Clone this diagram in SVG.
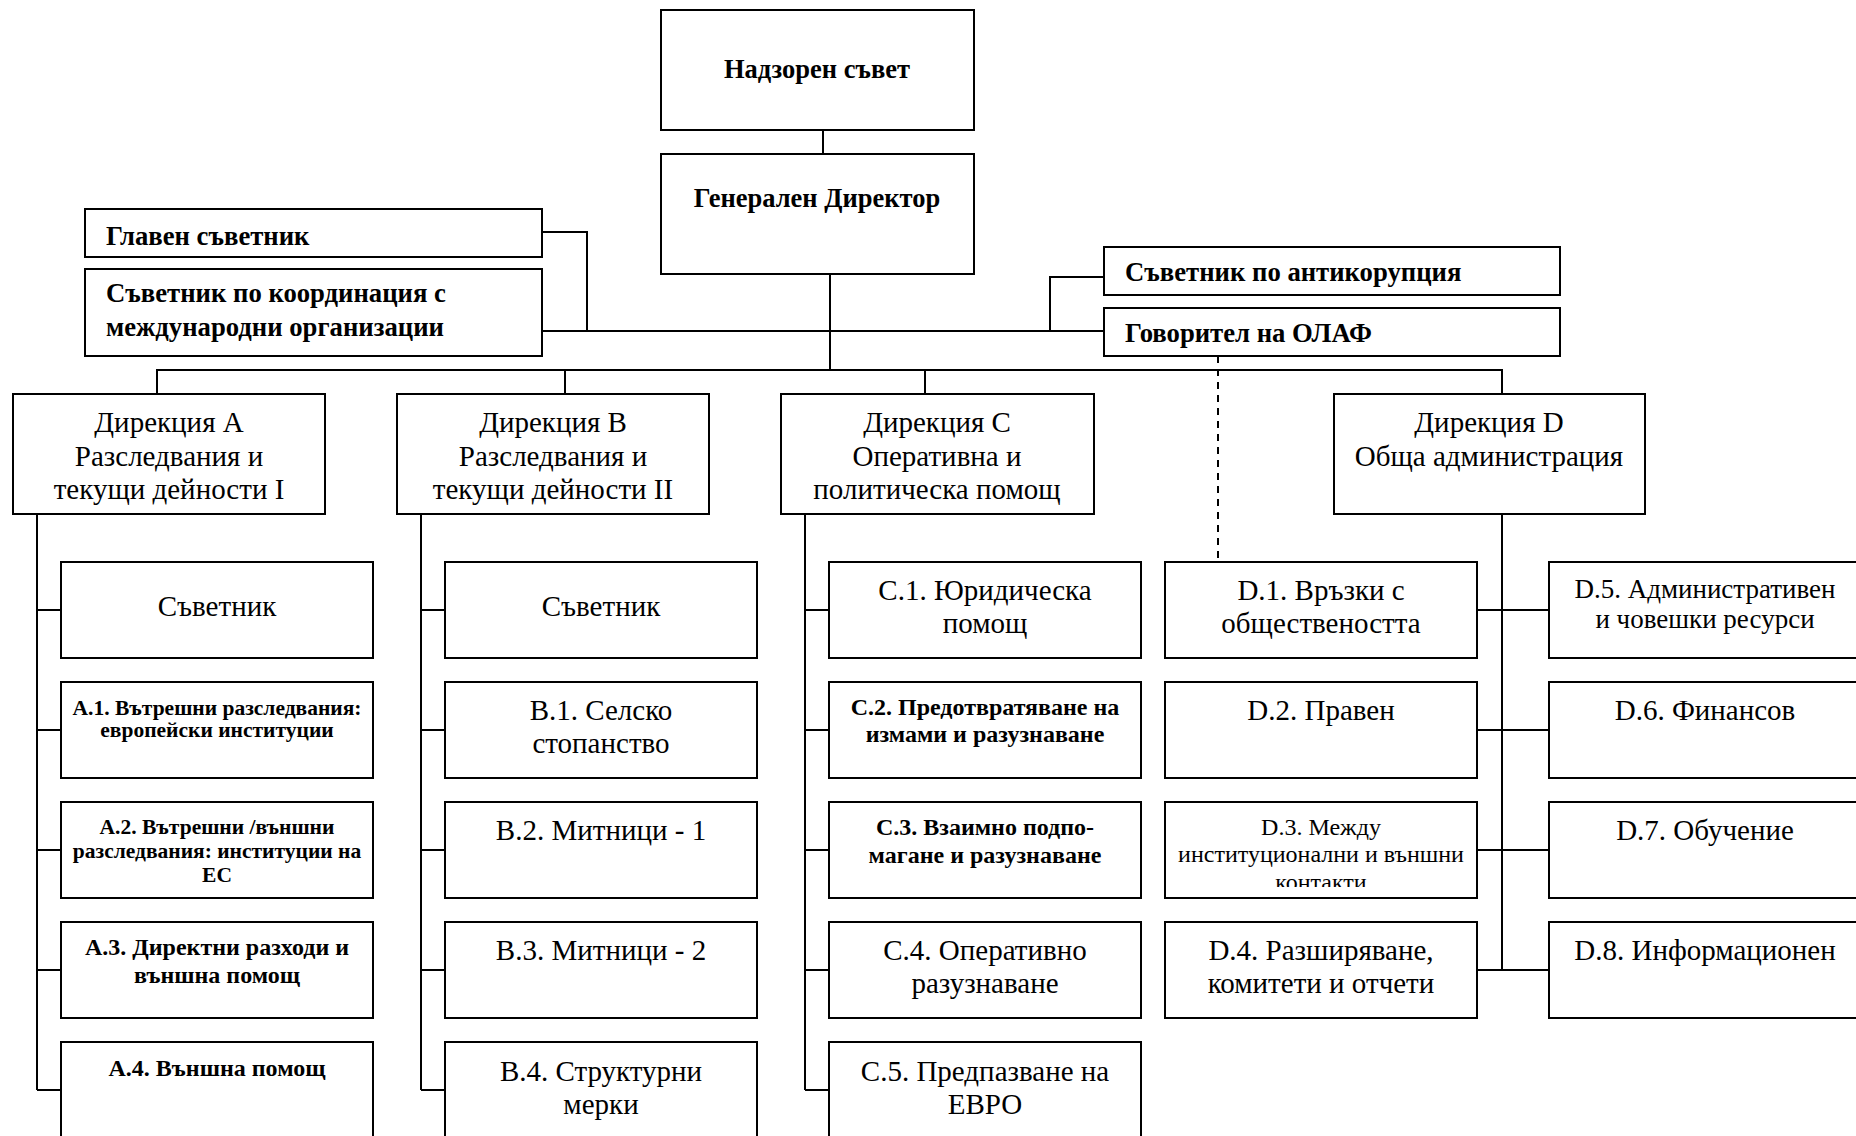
<svg xmlns="http://www.w3.org/2000/svg" width="1856" height="1136" viewBox="0 0 1856 1136">
<style>
  .box { fill: #fff; stroke: #000; stroke-width: 2; }
  .ln { fill: none; stroke: #000; stroke-width: 2; }
  .dash { fill: none; stroke: #000; stroke-width: 2; stroke-dasharray: 7 6; }
  text { font-family: "Liberation Serif", "Times New Roman", serif; fill: #000; }
  .n { font-size: 29px; text-anchor: middle; }
  .b { font-size: 21.5px; font-weight: bold; text-anchor: middle; }
  .b2 { font-size: 24px; font-weight: bold; text-anchor: middle; }
  .bt { font-size: 26.5px; font-weight: bold; text-anchor: middle; }
  .bl { font-size: 26.7px; font-weight: bold; }
  .s { font-size: 24px; text-anchor: middle; }
  .m { font-size: 27px; text-anchor: middle; }
</style>
<defs>
  <clipPath id="clipD3"><rect x="1165" y="802" width="312" height="85"/></clipPath>
</defs>
<rect width="1856" height="1136" fill="#fff"/>

<g id="connectors">
  <path class="ln" d="M823 130 V154"/>
  <path class="ln" d="M830 274 V370"/>
  <path class="ln" d="M542 232 H587 V331"/>
  <path class="ln" d="M542 331 H1104"/>
  <path class="ln" d="M1104 277 H1050 V331"/>
  <path class="ln" d="M157 394 V370 H1502 V394"/>
  <path class="ln" d="M565 370 V394"/>
  <path class="ln" d="M925 370 V394"/>
  <path class="dash" d="M1218 356 V566"/>
  <path class="ln" d="M37 514 V1090 M37 610 H61 M37 730 H61 M37 850 H61 M37 970 H61 M37 1090 H61"/>
  <path class="ln" d="M421 514 V1090 M421 610 H445 M421 730 H445 M421 850 H445 M421 970 H445 M421 1090 H445"/>
  <path class="ln" d="M805 514 V1090 M805 610 H829 M805 730 H829 M805 850 H829 M805 970 H829 M805 1090 H829"/>
  <path class="ln" d="M1502 514 V970 M1477 610 H1549 M1477 730 H1549 M1477 850 H1549 M1477 970 H1549"/>
</g>

<g id="supervisory"><rect class="box" x="661" y="10" width="313" height="120"/><text class="bt" x="817" y="78">Надзорен съвет</text></g>
<g id="director-general"><rect class="box" x="661" y="154" width="313" height="120"/><text class="bt" x="817" y="207">Генерален Директор</text></g>
<g id="chief-adviser"><rect class="box" x="85" y="209" width="457" height="48"/><text class="bl" x="106" y="245">Главен съветник</text></g>
<g id="coord-adviser"><rect class="box" x="85" y="269" width="457" height="87"/><text class="bl" x="106" y="302">Съветник по координация с</text><text class="bl" x="106" y="336">международни организации</text></g>
<g id="anticorruption"><rect class="box" x="1104" y="247" width="456" height="48"/><text class="bl" x="1125" y="281">Съветник по антикорупция</text></g>
<g id="spokesperson"><rect class="box" x="1104" y="308" width="456" height="48"/><text class="bl" x="1125" y="342">Говорител на ОЛАФ</text></g>

<g id="dir-a"><rect class="box" x="13" y="394" width="312" height="120"/><text class="n" x="169" y="432">Дирекция А</text><text class="n" x="169" y="466">Разследвания и</text><text class="n" x="169" y="499">текущи дейности I</text></g>
<g id="dir-b"><rect class="box" x="397" y="394" width="312" height="120"/><text class="n" x="553" y="432">Дирекция В</text><text class="n" x="553" y="466">Разследвания и</text><text class="n" x="553" y="499">текущи дейности II</text></g>
<g id="dir-c"><rect class="box" x="781" y="394" width="313" height="120"/><text class="n" x="937" y="432">Дирекция С</text><text class="n" x="937" y="466">Оперативна и</text><text class="n" x="937" y="499">политическа помощ</text></g>
<g id="dir-d"><rect class="box" x="1334" y="394" width="311" height="120"/><text class="n" x="1489" y="432">Дирекция D</text><text class="n" x="1489" y="466">Обща администрация</text></g>

<g id="a-adviser"><rect class="box" x="61" y="562" width="312" height="96"/><text class="n" x="217" y="616">Съветник</text></g>
<g id="a1"><rect class="box" x="61" y="682" width="312" height="96"/><text class="b" x="217" y="715">А.1. Вътрешни разследвания:</text><text class="b" x="217" y="737">европейски институции</text></g>
<g id="a2"><rect class="box" x="61" y="802" width="312" height="96"/><text class="b" x="217" y="834">А.2. Вътрешни /външни</text><text class="b" x="217" y="858">разследвания: институции на</text><text class="b" x="217" y="882">ЕС</text></g>
<g id="a3"><rect class="box" x="61" y="922" width="312" height="96"/><text class="b2" x="217" y="955">А.3. Директни разходи и</text><text class="b2" x="217" y="983">външна помощ</text></g>
<g id="a4"><rect class="box" x="61" y="1042" width="312" height="100"/><text class="b2" x="217" y="1076">А.4. Външна помощ</text></g>

<g id="b-adviser"><rect class="box" x="445" y="562" width="312" height="96"/><text class="n" x="601" y="616">Съветник</text></g>
<g id="b1"><rect class="box" x="445" y="682" width="312" height="96"/><text class="n" x="601" y="720">В.1. Селско</text><text class="n" x="601" y="753">стопанство</text></g>
<g id="b2"><rect class="box" x="445" y="802" width="312" height="96"/><text class="n" x="601" y="840">В.2. Митници - 1</text></g>
<g id="b3"><rect class="box" x="445" y="922" width="312" height="96"/><text class="n" x="601" y="960">В.3. Митници - 2</text></g>
<g id="b4"><rect class="box" x="445" y="1042" width="312" height="100"/><text class="n" x="601" y="1081">В.4. Структурни</text><text class="n" x="601" y="1114">мерки</text></g>

<g id="c1"><rect class="box" x="829" y="562" width="312" height="96"/><text class="n" x="985" y="600">С.1. Юридическа</text><text class="n" x="985" y="633">помощ</text></g>
<g id="c2"><rect class="box" x="829" y="682" width="312" height="96"/><text class="b2" x="985" y="715">С.2. Предотвратяване на</text><text class="b2" x="985" y="742">измами и разузнаване</text></g>
<g id="c3"><rect class="box" x="829" y="802" width="312" height="96"/><text class="b2" x="985" y="835">С.3. Взаимно подпо-</text><text class="b2" x="985" y="863">магане и разузнаване</text></g>
<g id="c4"><rect class="box" x="829" y="922" width="312" height="96"/><text class="n" x="985" y="960">С.4. Оперативно</text><text class="n" x="985" y="993">разузнаване</text></g>
<g id="c5"><rect class="box" x="829" y="1042" width="312" height="100"/><text class="n" x="985" y="1081">С.5. Предпазване на</text><text class="n" x="985" y="1114">ЕВРО</text></g>

<g id="d1"><rect class="box" x="1165" y="562" width="312" height="96"/><text class="n" x="1321" y="600">D.1. Връзки с</text><text class="n" x="1321" y="633">обществеността</text></g>
<g id="d2"><rect class="box" x="1165" y="682" width="312" height="96"/><text class="n" x="1321" y="720">D.2. Правен</text></g>
<g id="d3"><rect class="box" x="1165" y="802" width="312" height="96"/><g clip-path="url(#clipD3)"><text class="s" x="1321" y="835">D.3. Между</text><text class="s" x="1321" y="862">институционални и външни</text><text class="s" x="1321" y="890">контакти</text></g></g>
<g id="d4"><rect class="box" x="1165" y="922" width="312" height="96"/><text class="n" x="1321" y="960">D.4. Разширяване,</text><text class="n" x="1321" y="993">комитети и отчети</text></g>

<g id="d5"><rect class="box" x="1549" y="562" width="320" height="96"/><text class="m" x="1705" y="598">D.5. Административен</text><text class="m" x="1705" y="628">и човешки ресурси</text></g>
<g id="d6"><rect class="box" x="1549" y="682" width="320" height="96"/><text class="n" x="1705" y="720">D.6. Финансов</text></g>
<g id="d7"><rect class="box" x="1549" y="802" width="320" height="96"/><text class="n" x="1705" y="840">D.7. Обучение</text></g>
<g id="d8"><rect class="box" x="1549" y="922" width="320" height="96"/><text class="n" x="1705" y="960">D.8. Информационен</text></g>
</svg>
